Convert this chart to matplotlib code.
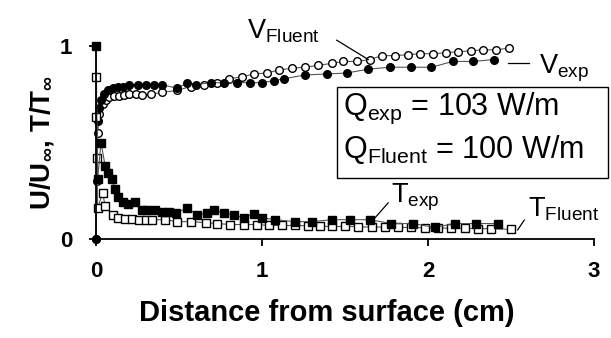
import matplotlib
matplotlib.use("Agg")
import matplotlib.pyplot as plt
from matplotlib.patches import Rectangle

plt.rcParams['font.family'] = ['Liberation Sans', 'DejaVu Sans']
plt.rcParams['mathtext.fontset'] = 'custom'
plt.rcParams['mathtext.rm'] = 'Liberation Sans'
plt.rcParams['mathtext.it'] = 'Liberation Sans:italic'
plt.rcParams['mathtext.bf'] = 'Liberation Sans:bold'

# ---- data (distance in cm, normalized values) ----
v_exp_x = [0.0, 0.01, 0.02, 0.03, 0.05, 0.07, 0.1, 0.13, 0.16, 0.2, 0.25, 0.3, 0.35, 0.4,
           0.49, 0.55, 0.6, 0.69, 0.77, 0.85, 0.93, 1.0, 1.07, 1.13, 1.26, 1.39, 1.51,
           1.64, 1.77, 1.9, 2.02, 2.15, 2.27, 2.4]
v_exp_y = [0.0, 0.61, 0.68, 0.72, 0.75, 0.77, 0.78, 0.79, 0.79, 0.80, 0.80, 0.80, 0.80, 0.80,
           0.78, 0.81, 0.80, 0.81, 0.81, 0.81, 0.81, 0.81, 0.82, 0.83, 0.85, 0.855, 0.86,
           0.88, 0.89, 0.89, 0.89, 0.92, 0.92, 0.93]

v_flu_x = [0.0, 0.005, 0.01, 0.02, 0.04, 0.06, 0.08, 0.11, 0.14, 0.17, 0.2, 0.24, 0.28, 0.33,
           0.4, 0.49, 0.57, 0.65, 0.73, 0.8, 0.88, 0.95, 1.03, 1.1, 1.18, 1.26, 1.34, 1.42,
           1.49, 1.57, 1.65, 1.72, 1.8, 1.88, 1.95, 2.03, 2.11, 2.18, 2.26, 2.33, 2.41, 2.49]
v_flu_y = [0.0, 0.3, 0.55, 0.65, 0.70, 0.72, 0.735, 0.74, 0.74, 0.745, 0.75, 0.75, 0.745, 0.75,
           0.76, 0.77, 0.79, 0.80, 0.81, 0.83, 0.84, 0.855, 0.86, 0.875, 0.885, 0.89, 0.90, 0.91,
           0.92, 0.92, 0.93, 0.95, 0.95, 0.955, 0.96, 0.96, 0.965, 0.97, 0.975, 0.98, 0.98, 0.99]

t_exp_x = [0.0, 0.01, 0.03, 0.055, 0.075, 0.095, 0.115, 0.135, 0.165, 0.195, 0.235, 0.275,
           0.31, 0.355, 0.4, 0.44, 0.48, 0.55, 0.61, 0.67, 0.71, 0.77, 0.83, 0.89, 0.95,
           1.0, 1.08, 1.2, 1.3, 1.42, 1.53, 1.65, 1.78, 1.91, 2.04, 2.16, 2.29, 2.42]
t_exp_y = [1.0, 0.31, 0.50, 0.38, 0.34, 0.31, 0.26, 0.22, 0.19, 0.18, 0.19, 0.15,
           0.15, 0.15, 0.14, 0.14, 0.135, 0.16, 0.125, 0.135, 0.15, 0.135, 0.125, 0.11, 0.13,
           0.11, 0.10, 0.09, 0.09, 0.10, 0.10, 0.10, 0.08, 0.08, 0.06, 0.08, 0.08, 0.08]

t_flu_x = [0.0, 0.002, 0.005, 0.01, 0.04, 0.055, 0.1, 0.135, 0.175, 0.215, 0.26, 0.3, 0.34,
           0.415, 0.49, 0.57, 0.66, 0.73, 0.81, 0.89, 0.97, 1.04, 1.12, 1.2, 1.28, 1.35,
           1.42, 1.5, 1.58, 1.66, 1.74, 1.82, 1.9, 1.98, 2.06, 2.14, 2.22, 2.3, 2.38, 2.5]
t_flu_y = [0.84, 0.63, 0.42, 0.16, 0.24, 0.17, 0.125, 0.11, 0.105, 0.105, 0.10, 0.10, 0.10,
           0.10, 0.09, 0.09, 0.085, 0.08, 0.075, 0.075, 0.075, 0.07, 0.07, 0.07, 0.068, 0.066,
           0.065, 0.065, 0.063, 0.062, 0.062, 0.06, 0.06, 0.058, 0.057, 0.056, 0.055, 0.054, 0.053, 0.05]

x_ticks = [0, 1, 2, 3]
y_ticks = [0, 1]

fig = plt.figure(figsize=(6.11, 3.38), dpi=100)
ax = fig.add_axes([96/611, 1 - 239/338, (594-96)/611, (239-46)/338])

line_kw = dict(color='#555555', lw=0.8, clip_on=False)
ax.plot(v_flu_x, v_flu_y, marker='o', ms=5.5, mfc='white', mec='black', mew=1.0, **line_kw)
ax.plot(v_exp_x, v_exp_y, marker='o', ms=5.5, mfc='black', mec='black', mew=1.0, **line_kw)
ax.plot(t_flu_x, t_flu_y, marker='s', ms=5.2, mfc='white', mec='black', mew=1.0, **line_kw)
ax.plot(t_exp_x, t_exp_y, marker='s', ms=5.7, mfc='black', mec='black', mew=1.0, **line_kw)

ax.set_xlim(0, 3)
ax.set_ylim(0, 1)
ax.set_xticks(x_ticks)
ax.set_yticks(y_ticks)
ax.set_xticklabels([str(t) for t in x_ticks], fontweight='bold', fontsize=16)
ax.set_yticklabels([str(t) for t in y_ticks], fontweight='bold', fontsize=16)
for s in ['top', 'right']:
    ax.spines[s].set_visible(False)
for s in ['left', 'bottom']:
    ax.spines[s].set_linewidth(1.3)
ax.tick_params(axis='both', direction='out', length=5, width=1.3, color='black')
ax.tick_params(axis='x', pad=11)
ax.tick_params(axis='y', pad=12)

ax.set_xlabel('Distance from surface (cm)', fontsize=21, fontweight='bold')
ax.xaxis.set_label_coords((327 - 96) / 498, (239 - 299) / 193)
ax.set_ylabel(r'U/U$_{\mathbf{\infty}}$, T/T$_{\mathbf{\infty}}$', fontsize=20,
              fontweight='bold')
ax.yaxis.set_label_coords((56 - 96) / 498, 0.5)

# annotations
fs = 19.5
ax.text(0.91, 1.04, r'V$_{\mathrm{Fluent}}$', fontsize=fs, va='baseline', ha='left', clip_on=False)
ax.plot([1.45, 1.64], [1.03, 0.93], color='black', lw=0.9, clip_on=False)
ax.text(2.67, 0.86, r'V$_{\mathrm{exp}}$', fontsize=fs, va='baseline', ha='left', clip_on=False)
ax.plot([2.48, 2.61], [0.91, 0.91], color='black', lw=0.9, clip_on=False)
ax.text(1.78, 0.19, r'T$_{\mathrm{exp}}$', fontsize=fs, va='baseline', ha='left', clip_on=False)
ax.plot([1.76, 1.68], [0.187, 0.109], color='black', lw=0.9, clip_on=False)
ax.text(2.6, 0.114, r'T$_{\mathrm{Fluent}}$', fontsize=fs, va='baseline', ha='left', clip_on=False)
ax.plot([2.54, 2.58], [0.047, 0.098], color='black', lw=0.9, clip_on=False)

ax.add_patch(Rectangle((1.452, 0.316), 3.084 - 1.452, 0.788 - 0.316, fill=False,
                       ec='black', lw=1.0, clip_on=False))
ax.text(1.49, 0.642, r'Q$_{\mathrm{exp}}$ = 103 W/m', fontsize=22, va='baseline', ha='left')
ax.text(1.49, 0.42, r'Q$_{\mathrm{Fluent}}$ = 100 W/m', fontsize=22, va='baseline', ha='left')

fig.savefig('out.png', dpi=100)
